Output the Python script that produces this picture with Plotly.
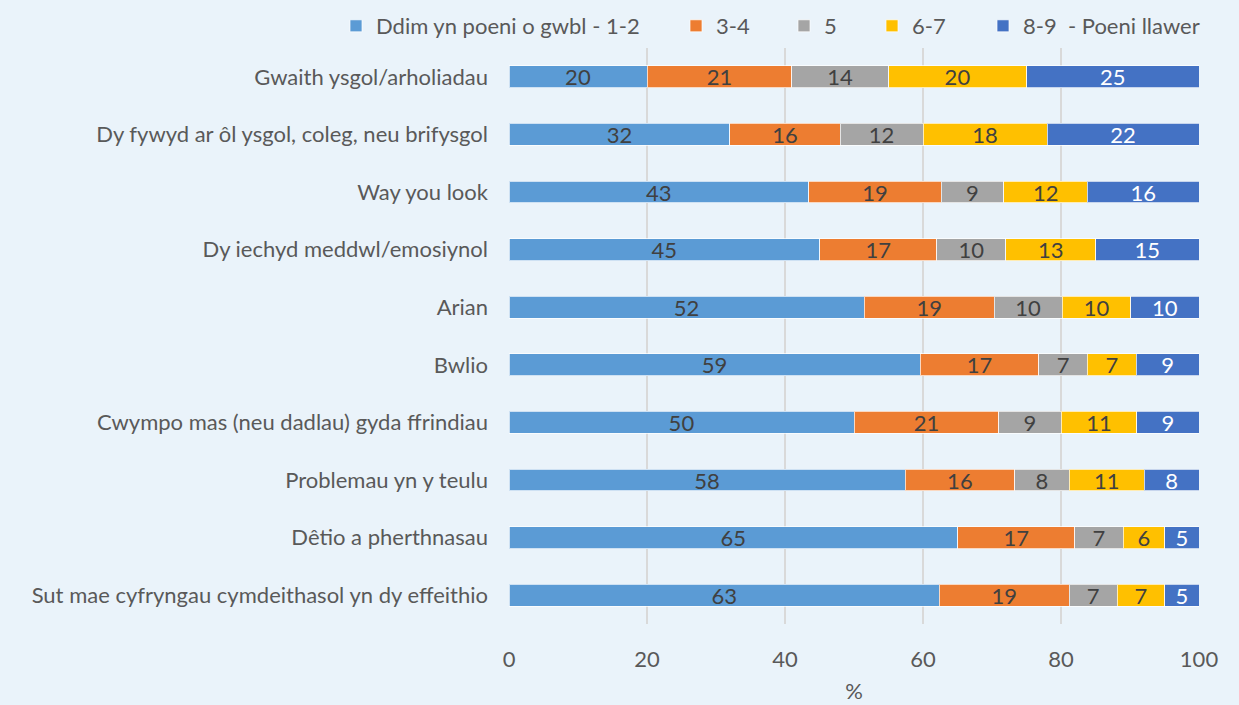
import plotly.graph_objects as go

categories = [
    "Gwaith ysgol/arholiadau",
    "Dy fywyd ar ôl ysgol, coleg, neu brifysgol",
    "Way you look",
    "Dy iechyd meddwl/emosiynol",
    "Arian",
    "Bwlio",
    "Cwympo mas (neu dadlau) gyda ffrindiau",
    "Problemau yn y teulu",
    "Dêtio a pherthnasau",
    "Sut mae cyfryngau cymdeithasol yn dy effeithio",
]
series_names = ["Ddim yn poeni o gwbl - 1-2", "3-4", "5", "6-7", "8-9  - Poeni llawer"]
v_1_2 = [20, 32, 43, 45, 52, 59, 50, 58, 65, 63]
v_3_4 = [21, 16, 19, 17, 19, 17, 21, 16, 17, 19]
v_5 = [14, 12, 9, 10, 10, 7, 9, 8, 7, 7]
v_6_7 = [20, 18, 12, 13, 10, 7, 11, 11, 6, 7]
v_8_9 = [25, 22, 16, 15, 10, 9, 9, 8, 5, 5]
x_ticks = [0, 20, 40, 60, 80, 100]

series_values = [v_1_2, v_3_4, v_5, v_6_7, v_8_9]
colors = ["#5B9BD5", "#ED7D31", "#A5A5A5", "#FFC000", "#4472C4"]
label_colors = ["#404040", "#404040", "#404040", "#404040", "#FFFFFF"]
legend_left_px = [336, 676, 784, 872, 983]

FONT = "Lato"
FS = 22
W, H = 1239, 705
fig = go.Figure()
legend_layouts = {}
for i, (name, vals, c, lc) in enumerate(zip(series_names, series_values, colors, label_colors)):
    lid = "legend" if i == 0 else f"legend{i + 1}"
    fig.add_trace(go.Bar(
        y=categories, x=vals, name=name, orientation="h", legend=lid,
        marker=dict(color=c, line=dict(color="rgba(255,255,255,0.7)", width=1)),
        text=[str(v) for v in vals], textposition="inside",
        insidetextanchor="middle", textangle=0,
        textfont=dict(family=FONT, size=FS, color=lc),
        constraintext="none",
    ))
    legend_layouts[lid] = dict(
        orientation="h", xref="container", x=legend_left_px[i] / W, xanchor="left",
        yref="container", y=1 - 5 / H, yanchor="top",
        font=dict(family=FONT, size=FS, color="#595959"),
        itemclick=False, itemwidth=30, bgcolor="rgba(0,0,0,0)",
    )

fig.update_layout(
    barmode="stack", barnorm="percent", bargap=0.62,
    width=W, height=H,
    margin=dict(l=509, r=40, t=48, b=81, autoexpand=False),
    paper_bgcolor="#EAF3FA", plot_bgcolor="#EAF3FA",
    font=dict(family=FONT, size=FS, color="#595959"),
    showlegend=True,
    uniformtext=dict(mode=False),
    **legend_layouts,
)
fig.update_xaxes(range=[0, 100], tickvals=x_ticks, showgrid=True, gridcolor="#D9D9D9",
                 gridwidth=2, zeroline=False, ticks="", ticklabelstandoff=20,
                 tickfont=dict(size=FS, color="#595959"),
                 title=dict(text="%", font=dict(size=FS, color="#595959"), standoff=12))
fig.update_yaxes(autorange="reversed", showgrid=False, ticks="", ticklabelstandoff=20,
                 tickfont=dict(size=FS, color="#595959"))

fig.write_html("out.html", config={"displayModeBar": False},
               post_script="document.body.style.margin='0';document.body.style.background='#EAF3FA';")
